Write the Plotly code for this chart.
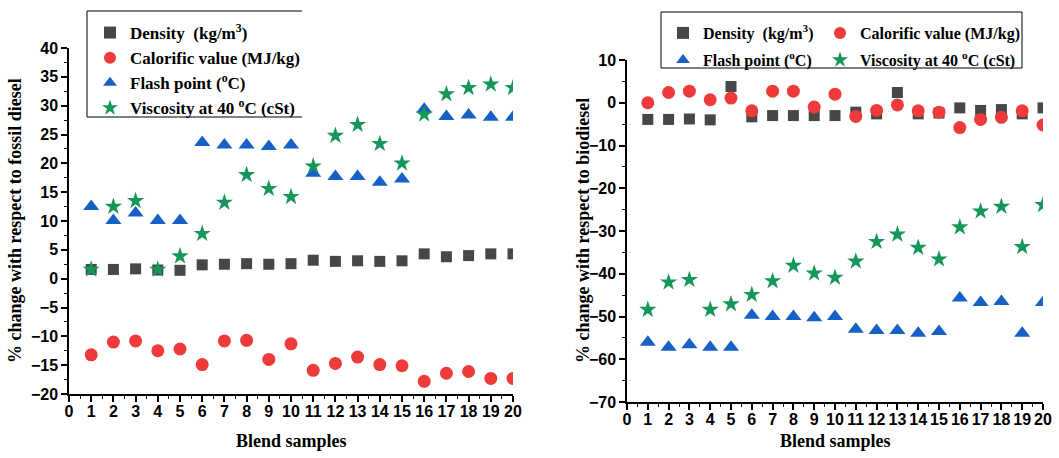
import plotly.graph_objects as go

# Blend sample numbers
samples = list(range(1, 21))

# % change with respect to fossil diesel
fd_density = [1.6, 1.6, 1.7, 1.5, 1.45, 2.4, 2.5, 2.6, 2.5, 2.6,
              3.2, 3.0, 3.1, 3.0, 3.1, 4.3, 3.8, 4.0, 4.3, 4.3]
fd_calorific = [-13.2, -11.0, -10.8, -12.5, -12.2, -14.9, -10.8, -10.7, -14.0, -11.3,
                -15.9, -14.7, -13.6, -14.9, -15.1, -17.8, -16.4, -16.1, -17.3, -17.3]
fd_flash = [12.5, 10.1, 11.4, 10.1, 10.1, 23.6, 23.2, 23.2, 22.9, 23.2,
            18.3, 17.7, 17.7, 16.7, 17.3, 29.4, 28.1, 28.4, 28.0, 28.0]
fd_viscosity = [1.6, 12.5, 13.5, 1.6, 3.9, 7.8, 13.2, 18.0, 15.6, 14.2,
                19.5, 24.8, 26.7, 23.4, 20.0, 28.5, 32.0, 33.1, 33.7, 33.1]

# % change with respect to biodiesel
bd_density = [-3.9, -3.9, -3.8, -4.0, 3.8, -3.3, -3.0, -3.0, -3.0, -3.0,
              -2.2, -2.6, 2.4, -2.6, -2.4, -1.2, -1.8, -1.6, -2.6, -1.2]
bd_calorific = [0.0, 2.4, 2.7, 0.7, 1.1, -1.9, 2.7, 2.7, -1.0, 2.0,
                -3.2, -1.8, -0.5, -1.9, -2.2, -5.8, -3.9, -3.4, -1.9, -5.2]
bd_flash = [-56.0, -57.2, -56.6, -57.2, -57.2, -49.7, -50.0, -50.0, -50.3, -50.0,
            -53.0, -53.3, -53.3, -53.9, -53.5, -45.7, -46.7, -46.5, -53.9, -46.7]
bd_viscosity = [-48.4, -42.0, -41.4, -48.4, -47.1, -44.9, -41.7, -38.1, -39.9, -40.9,
                -37.1, -32.5, -30.8, -33.9, -36.6, -29.1, -25.4, -24.3, -33.7, -23.9]

x_ticks = list(range(0, 21))

names = ["Density  (kg/m<sup>3</sup>)", "Calorific value (MJ/kg)",
         "Flash point (<sup>o</sup>C)", "Viscosity at 40 <sup>o</sup>C (cSt)"]
colors = ["#474747", "#ee3a3a", "#1660c6", "#17965a"]
symbols = ["square", "circle", "triangle-up", "star"]
sizes = [11, 13, 14, 13]

W, H = 1059, 458
ML, MR, MT, MB = 69, 16, 48, 56
PW, PH = W - ML - MR, H - MT - MB


def px_x(p):
    return (p - ML) / PW


def px_y(p):
    return (H - MB - p) / PH


fig = go.Figure()

left_sets = [fd_density, fd_calorific, fd_flash, fd_viscosity]
right_sets = [bd_density, bd_calorific, bd_flash, bd_viscosity]
right_legends = ["legend2", "legend3", "legend4", "legend5"]

for i in range(4):
    fig.add_trace(go.Scatter(
        x=samples, y=left_sets[i], mode="markers", name=names[i],
        legendgroup="fd%d" % i,
        marker=dict(symbol=symbols[i], size=sizes[i], color=colors[i], line=dict(width=0)),
        xaxis="x", yaxis="y", legend="legend"))

for i in range(4):
    fig.add_trace(go.Scatter(
        x=samples, y=right_sets[i], mode="markers", name=names[i],
        marker=dict(symbol=symbols[i], size=sizes[i], color=colors[i], line=dict(width=0)),
        xaxis="x2", yaxis="y2", legend=right_legends[i]))

tickfont = dict(family="Liberation Sans", size=16, color="black", weight="bold")
titlefont = dict(family="Liberation Serif", size=18, color="black", weight="bold")

common_x = dict(range=[0, 20], tickmode="array", tickvals=x_ticks, ticktext=[str(t) for t in x_ticks],
                tickangle=0, automargin=False, ticklabelstandoff=-4,
                showline=True, linecolor="black", linewidth=1.5, ticks="outside", ticklen=6,
                tickwidth=1.5, tickcolor="black", showgrid=False, zeroline=False, tickfont=tickfont,
                minor=dict(dtick=0.5, ticks="outside", ticklen=3, tickwidth=1.2, tickcolor="black"))

common_y = dict(showline=True, linecolor="black", linewidth=1.5, ticks="outside", ticklen=6,
                tickwidth=1.5, tickcolor="black", showgrid=False, zeroline=False, tickfont=tickfont,
                automargin=False, tick0=0)


def leg(x, y, size):
    return dict(xref="container", yref="container", x=x / W, y=1 - y / H,
                xanchor="left", yanchor="top", bgcolor="rgba(0,0,0,0)",
                font=dict(family="Liberation Serif", size=size, color="black", weight="bold"),
                borderwidth=0, itemsizing="constant")


fig.update_layout(
    width=W, height=H,
    margin=dict(l=ML, r=MR, t=MT, b=MB, autoexpand=False),
    paper_bgcolor="white", plot_bgcolor="white",
    xaxis=dict(domain=[0, px_x(513)], anchor="y", **common_x),
    xaxis2=dict(domain=[px_x(627), 1], anchor="y2", **common_x),
    yaxis=dict(domain=[px_y(394), 1], anchor="x", range=[-20, 40], dtick=5,
               minor=dict(dtick=2.5, ticks="outside", ticklen=3, tickwidth=1.2, tickcolor="black"),
               **common_y),
    yaxis2=dict(domain=[0, px_y(60)], anchor="x2", range=[-70, 10], dtick=10,
                minor=dict(dtick=5, ticks="outside", ticklen=3, tickwidth=1.2, tickcolor="black"),
                **common_y),
    legend=dict(leg(90, 15, 17), tracegroupgap=0),
    legend2=leg(663, 16, 16),
    legend3=leg(820, 16, 16),
    legend4=leg(663, 43, 16),
    legend5=leg(820, 43, 16),
    showlegend=True,
)

# Axis titles
titles = [
    ("Blend samples", 291, 441, 0),
    ("Blend samples", 835, 441, 0),
    ("% change with respect to fossil diesel", 15, 221, -90),
    ("% change with respect to biodiesel", 583, 231, -90),
]
for text, tx, ty, ang in titles:
    fig.add_annotation(text=text, xref="paper", yref="paper", x=px_x(tx), y=px_y(ty),
                       xanchor="center", yanchor="middle", textangle=ang, showarrow=False,
                       font=titlefont)

# Legend frames
frame = dict(color="black", width=1)
fig.add_shape(type="line", xref="paper", yref="paper", x0=px_x(87), x1=px_x(302),
              y0=px_y(11), y1=px_y(11), line=frame)
fig.add_shape(type="line", xref="paper", yref="paper", x0=px_x(87), x1=px_x(302),
              y0=px_y(117), y1=px_y(117), line=frame)
fig.add_shape(type="line", xref="paper", yref="paper", x0=px_x(87), x1=px_x(87),
              y0=px_y(11), y1=px_y(117), line=frame)
fig.add_shape(type="rect", xref="paper", yref="paper", x0=px_x(661), x1=px_x(1022),
              y0=px_y(12), y1=px_y(68), line=frame, fillcolor="rgba(0,0,0,0)")

fig.write_html("out.html")
